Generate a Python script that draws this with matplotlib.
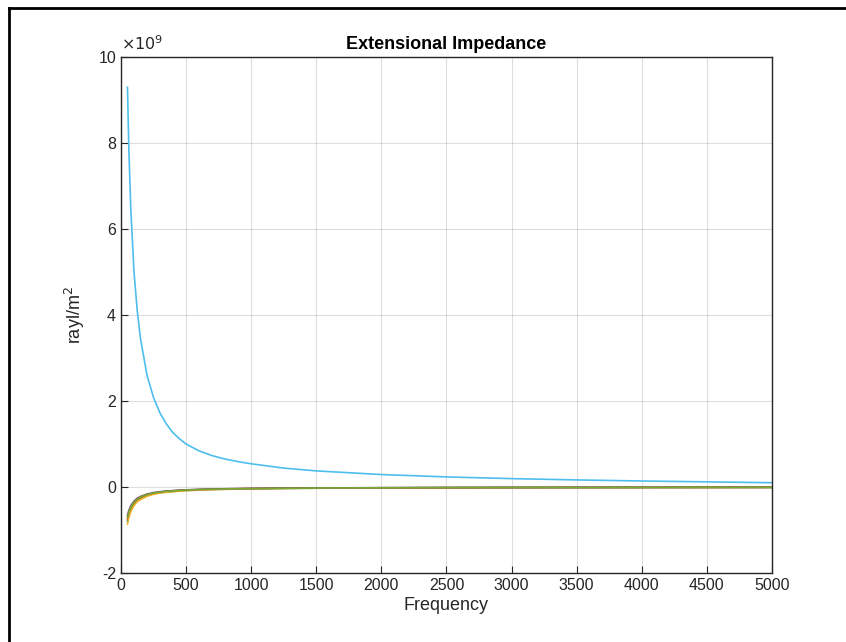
import numpy as np
import matplotlib
matplotlib.use('Agg')
import matplotlib.pyplot as plt
from matplotlib.lines import Line2D

plt.rcParams['font.family'] = ['Liberation Sans', 'DejaVu Sans']
plt.rcParams['axes.unicode_minus'] = False

# frequency points (Hz)
freq = [50, 60, 75, 100, 125, 150, 200, 250, 300, 350, 400, 450, 500, 600, 700, 800, 900,
        1000, 1250, 1500, 2000, 2500, 3000, 3500, 4000, 4500, 5000]

# values in units of 1e9 rayl/m^2
z_blue = [-0.80, -0.67, -0.53, -0.40, -0.32, -0.27, -0.20, -0.16, -0.13, -0.115, -0.10, -0.089, -0.08,
          -0.067, -0.057, -0.05, -0.044, -0.04, -0.032, -0.027, -0.02, -0.016, -0.013, -0.011,
          -0.010, -0.009, -0.008]
z_orange = [-0.74, -0.62, -0.49, -0.37, -0.30, -0.25, -0.185, -0.15, -0.12, -0.106, -0.093, -0.083,
            -0.074, -0.062, -0.053, -0.046, -0.041, -0.037, -0.030, -0.025, -0.018, -0.015, -0.012,
            -0.011, -0.009, -0.008, -0.007]
z_yellow = [-0.86, -0.72, -0.57, -0.43, -0.34, -0.29, -0.215, -0.17, -0.14, -0.123, -0.11, -0.096,
            -0.086, -0.072, -0.062, -0.054, -0.048, -0.043, -0.034, -0.029, -0.021, -0.017, -0.014,
            -0.012, -0.011, -0.010, -0.009]
z_purple = [-0.66, -0.55, -0.44, -0.33, -0.26, -0.22, -0.165, -0.13, -0.11, -0.094, -0.083, -0.073,
            -0.066, -0.055, -0.047, -0.041, -0.037, -0.033, -0.026, -0.022, -0.016, -0.013, -0.011,
            -0.009, -0.008, -0.007, -0.007]
z_green = [-0.70, -0.58, -0.47, -0.35, -0.28, -0.23, -0.175, -0.14, -0.117, -0.10, -0.088, -0.078,
           -0.070, -0.058, -0.050, -0.044, -0.039, -0.035, -0.028, -0.023, -0.018, -0.014, -0.012,
           -0.010, -0.009, -0.008, -0.007]
z_cyan = [9.30, 7.90, 6.50, 5.00, 4.10, 3.45, 2.60, 2.08, 1.72, 1.46, 1.26, 1.12, 1.00, 0.84, 0.73,
          0.65, 0.59, 0.54, 0.44, 0.375, 0.29, 0.235, 0.195, 0.165, 0.14, 0.12, 0.10]

series = [z_blue, z_orange, z_yellow, z_purple, z_green, z_cyan]
colors = ['#0072BD', '#D95319', '#EDB120', '#7E2F8E', '#77AC30', '#4DBEEE']

fig = plt.figure(figsize=(8.46, 6.42), dpi=100)
ax = fig.add_axes([0.143, 0.1075, 0.7695, 0.8035])

for z, c in zip(series, colors):
    ax.plot(freq, z, color=c, lw=1.2)

ax.set_xlim(0, 5000)
ax.set_ylim(-2, 10)
ax.set_xticks(np.arange(0, 5001, 500))
ax.set_yticks(np.arange(-2, 11, 2))
ax.grid(True, color='#000000', alpha=0.13, lw=0.8)
ax.set_axisbelow(True)
ax.tick_params(direction='in', length=5, width=0.8, colors='#262626', labelsize=11.5,
               top=False, right=False)
for s in ax.spines.values():
    s.set_color('#262626')
    s.set_linewidth(1.0)

ax.set_title('Extensional Impedance', fontsize=13, fontweight='bold', color='black', pad=6)
ax.set_xlabel('Frequency', fontsize=13, color='#262626', labelpad=3)
ax.set_ylabel('rayl/m$^2$', fontsize=13, color='#262626', labelpad=8)
ax.text(0.0, 1.008, r'$\times10^{9}$', transform=ax.transAxes, fontsize=11.5,
        color='#262626', ha='left', va='bottom')

# screenshot frame (top and left edges)
fig.add_artist(Line2D([9/846, 1.0], [1 - 8/642, 1 - 8/642], color='black', lw=2.0,
                      transform=fig.transFigure))
fig.add_artist(Line2D([9/846, 9/846], [0.0, 1 - 8/642], color='black', lw=2.0,
                      transform=fig.transFigure))

fig.savefig('out.png', dpi=100)
